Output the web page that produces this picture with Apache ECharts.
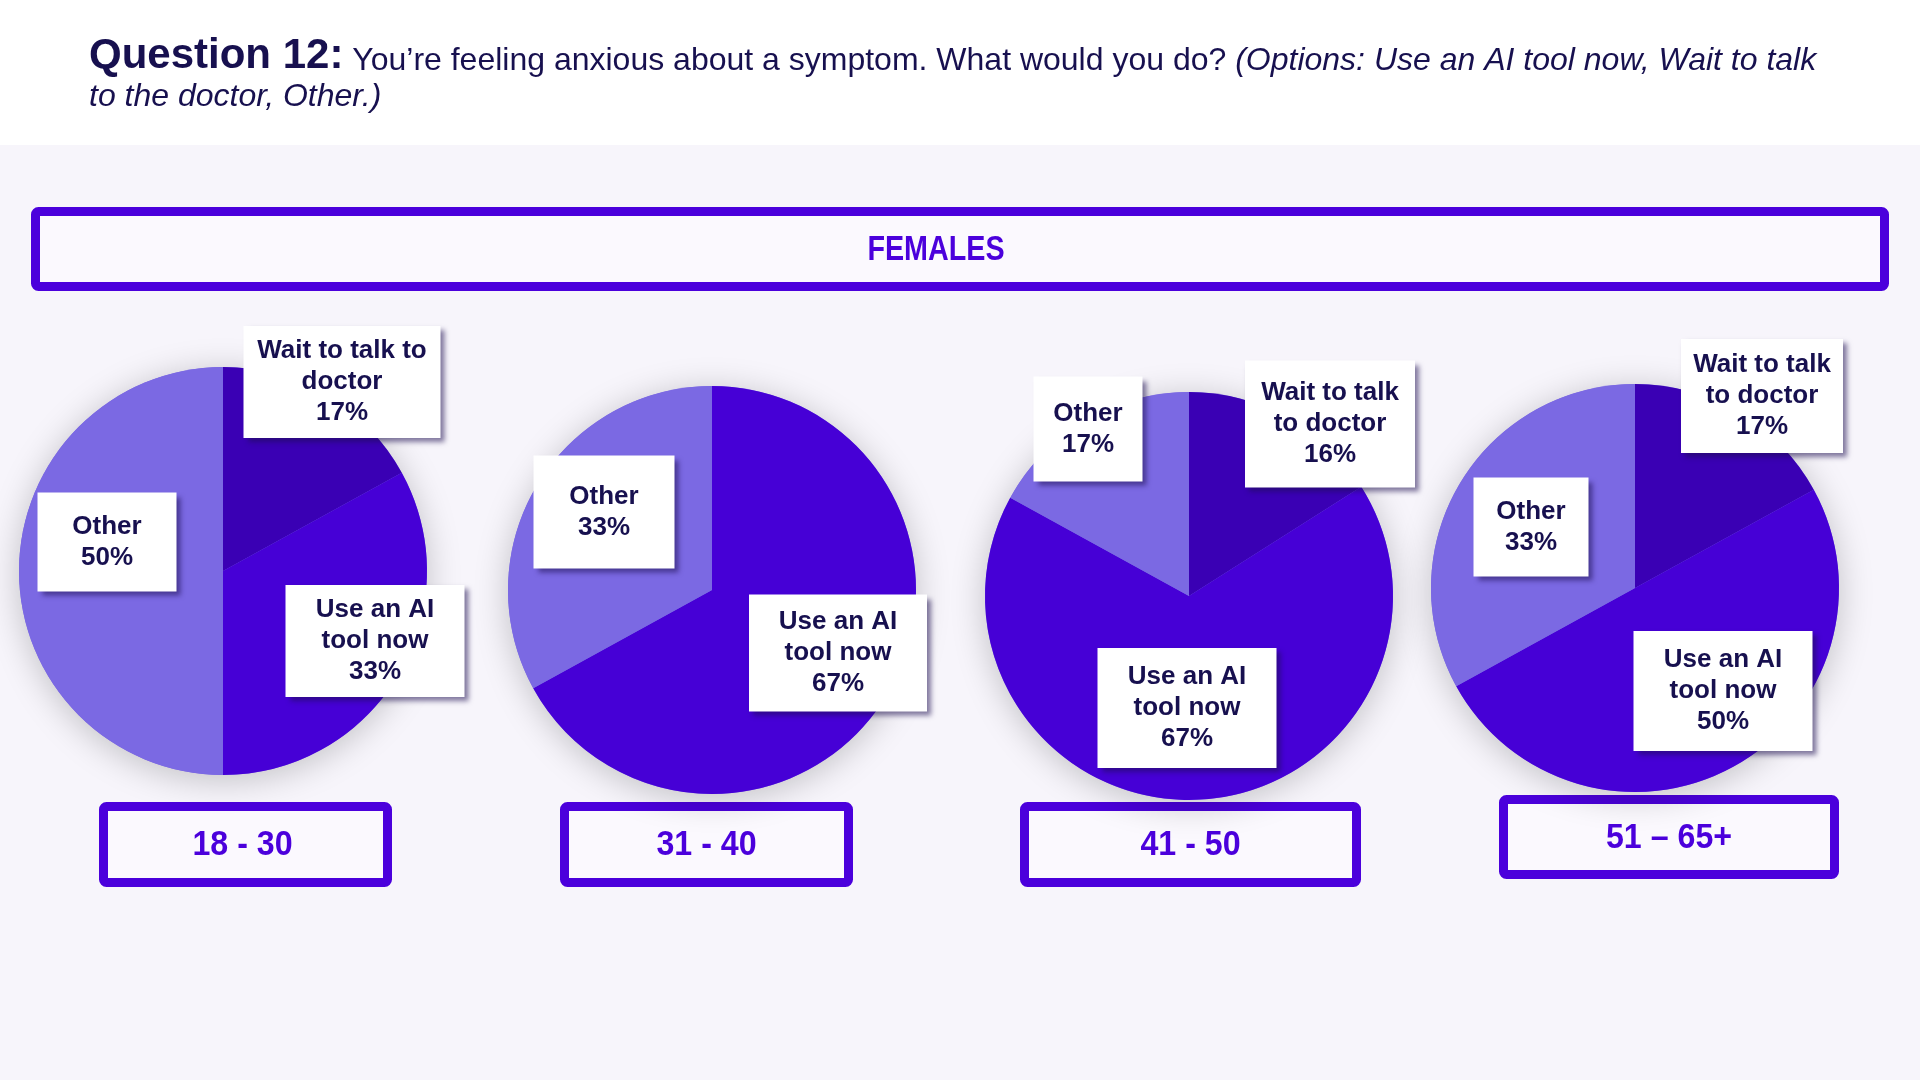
<!DOCTYPE html>
<html>
<head>
<meta charset="utf-8">
<script src="https://cdn.jsdelivr.net/npm/echarts@6/dist/echarts.min.js"></script>
<style>
html,body{margin:0;padding:0;background:#f7f5fb;}
#chart{width:1920px;height:1080px;}
</style>
</head>
<body>
<div id="chart"></div>
<script>
// ---------- data ----------
const questionLabel = 'Question 12:';
const questionText = 'You’re feeling anxious about a symptom. What would you do?';
const optionsLine1 = '(Options: Use an AI tool now, Wait to talk';
const optionsLine2 = 'to the doctor, Other.)';
const panelTitle = 'FEMALES';
const ageGroups = ['18 - 30', '31 - 40', '41 - 50', '51 – 65+'];
const answerNames = ['Wait to talk to doctor', 'Use an AI tool now', 'Other'];
const waitPct = [17, 0, 16, 17];
const aiPct = [33, 67, 67, 50];
const otherPct = [50, 33, 17, 33];
const waitLabelText = ['Wait to talk to\ndoctor', 'Wait to talk\nto doctor', 'Wait to talk\nto doctor', 'Wait to talk\nto doctor'];
const aiLabelText = ['Use an AI\ntool now', 'Use an AI\ntool now', 'Use an AI\ntool now', 'Use an AI\ntool now'];
const otherLabelText = ['Other', 'Other', 'Other', 'Other'];

// ---------- layout / style ----------
const sliceColors = ['#3a00b4', '#4600d6', '#7b69e3'];
const accent = '#4b00dc';
const navy = '#17104f';
const pieCenters = [[223, 571], [712, 590], [1189, 596], [1635, 588]];
const pieRadius = 204;
// label box: [dx from centre, dy from centre, width, height] in order Wait, AI, Other
const labelBoxes = [
  [[119, -189, 197, 112], [152, 70, 179, 112], [-116, -29, 139, 99]],
  [null, [126, 63, 178, 117], [-108, -78, 141, 113]],
  [[141, -172, 170, 127], [-2, 112, 179, 120], [-101, -167, 109, 105]],
  [[127, -192, 162, 114], [88, 103, 179, 120], [-104, -61, 115, 99]]
];
const ageBoxes = [[99, 802, 392, 887], [560, 802, 853, 887], [1020, 802, 1361, 887], [1499, 795, 1839, 879]];
const ageTextShift = [-3, 0, 0, 0];
const panelBox = [31, 207, 1889, 291];
const panelTextShift = -24;
const borderW = 9;
const labelFont = "'Liberation Sans', Arial, sans-serif";
const boxFont = "'Liberation Sans', Arial, sans-serif";
const lineH = 31;

const chart = echarts.init(document.getElementById('chart'), null, {renderer: 'canvas'});

function boxGraphic(b, text, fontSize, sx, shift) {
  const h = borderW / 2;
  return {
    type: 'group',
    children: [
      {type: 'rect', shape: {x: b[0] + h, y: b[1] + h, width: b[2] - b[0] - borderW, height: b[3] - b[1] - borderW, r: 3},
       style: {fill: '#fbf9fe', stroke: accent, lineWidth: borderW}},
      {type: 'text', x: (b[0] + b[2]) / 2 + shift, y: (b[1] + b[3]) / 2 + 1, scaleX: sx, scaleY: 1,
       style: {text: text, fill: accent, font: 'bold ' + fontSize + 'px ' + boxFont, align: 'center', verticalAlign: 'middle'}}
    ]
  };
}

const graphics = [
  {type: 'rect', z: -10, shape: {x: 0, y: 0, width: 1920, height: 145}, style: {fill: '#ffffff'}},
  boxGraphic(panelBox, panelTitle, 35, 0.82, panelTextShift)
];
ageGroups.forEach((g, i) => graphics.push(boxGraphic(ageBoxes[i], g, 35, 0.92, ageTextShift[i])));

const series = [];
ageGroups.forEach((g, i) => {
  // soft shadow disc beneath each pie
  series.push({
    type: 'pie', z: 1, silent: true, center: pieCenters[i], radius: pieRadius,
    label: {show: false}, labelLine: {show: false}, emphasis: {disabled: true},
    itemStyle: {color: '#7b69e3', shadowBlur: 34, shadowColor: 'rgba(0,0,0,0.22)', shadowOffsetY: 5},
    data: [{value: 1, name: 'bg'}]
  });
  const vals = [waitPct[i], aiPct[i], otherPct[i]];
  const texts = [waitLabelText[i], aiLabelText[i], otherLabelText[i]];
  const data = vals.map((v, k) => {
    const box = labelBoxes[i][k];
    const nLines = texts[k].split('\n').length + 1;
    const item = {value: v, name: answerNames[k], itemStyle: {color: sliceColors[k]}};
    if (!box || v === 0) {
      item.label = {show: false};
    } else {
      const pv = Math.max(0, (box[3] - nLines * lineH) / 2);
      item.label = {show: true, width: box[2], padding: [pv + 2, 0, pv - 2, 0],
        formatter: texts[k] + '\n' + v + '%'};
    }
    return item;
  });
  series.push({
    type: 'pie', z: 2, silent: true, center: pieCenters[i], radius: pieRadius,
    startAngle: 90, clockwise: true, avoidLabelOverlap: false,
    emphasis: {disabled: true},
    itemStyle: {borderWidth: 0},
    labelLine: {show: false},
    label: {
      position: 'inside', rotate: 0, color: navy, fontFamily: labelFont, fontWeight: 'bold',
      fontSize: 26, lineHeight: lineH, align: 'center', backgroundColor: '#ffffff',
      shadowColor: 'rgba(30,15,80,0.55)', shadowBlur: 5, shadowOffsetX: 4, shadowOffsetY: 4
    },
    labelLayout: function (p) {
      const box = labelBoxes[i][p.dataIndex];
      if (!box) return {};
      return {x: pieCenters[i][0] + box[0], y: pieCenters[i][1] + box[1], align: 'center', verticalAlign: 'middle'};
    },
    data: data
  });
});

const titleFont = "'Liberation Sans', Arial, Helvetica, sans-serif";
chart.setOption({
  backgroundColor: '#f7f5fb',
  animation: false,
  title: {
    left: 84, top: 36,
    text: '{q|' + questionLabel + '} {n|' + questionText + '} {i|' + optionsLine1 + '}\n{i|' + optionsLine2 + '}',
    textStyle: {
      fontSize: 32, fontWeight: 'normal', fontFamily: titleFont, color: navy, lineHeight: 36,
      rich: {
        q: {fontSize: 42, fontWeight: 'bold', fontFamily: titleFont, color: navy, lineHeight: 36, verticalAlign: 'bottom'},
        n: {fontSize: 32, fontWeight: 'normal', fontFamily: titleFont, color: navy, lineHeight: 36, verticalAlign: 'bottom'},
        i: {fontSize: 32, fontWeight: 'normal', fontStyle: 'italic', fontFamily: titleFont, color: navy, lineHeight: 36, verticalAlign: 'bottom'}
      }
    }
  },
  graphic: graphics,
  series: series
});
</script>
</body>
</html>
